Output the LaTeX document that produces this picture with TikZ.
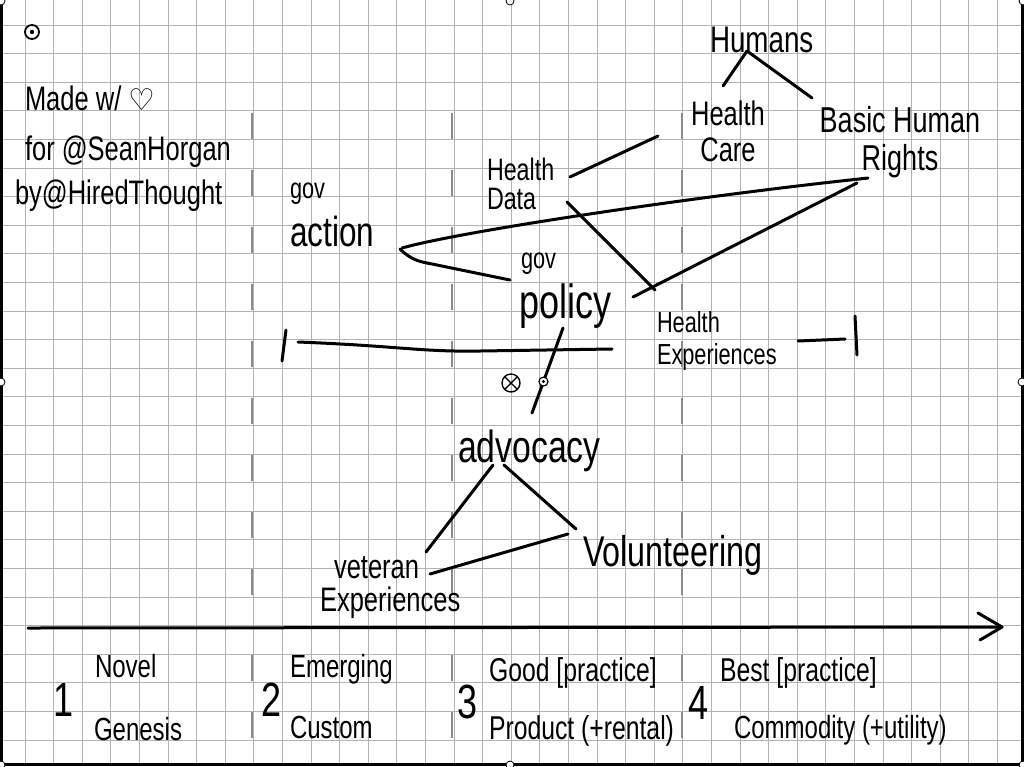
\documentclass[tikz,border=0pt]{standalone}
\usepackage{fontspec}
\setmainfont{Liberation Sans}[FakeStretch=0.75]
\newfontfamily\symfont{DejaVu Sans}
\usetikzlibrary{calc}
\begin{document}
\begin{tikzpicture}[x=1pt,y=-1pt,
  ink/.style={line width=3pt, line cap=round, line join=round, draw=black},
  gridline/.style={line width=1pt, draw=black!30},
  evo/.style={line width=2pt, draw=black!45, dash pattern=on 26pt off 31pt},
  hand/.style={inner sep=0pt, outer sep=0pt, text=black},
  fs/.style 2 args={font=\fontsize{#1}{#2}\selectfont},
  handle/.style={circle, draw=black, fill=white, line width=0.8pt, inner sep=0pt, minimum size=8pt},
  dotmark/.style={circle, draw=black, fill=white, line width=1.2pt, inner sep=0pt, minimum size=9pt}
]
\useasboundingbox (0,0) rectangle (1024,766);
\fill[white] (0,0) rectangle (1024,766);
% grid
\foreach \i in {0,...,34} \draw[gridline] ({25+28.6*\i},0) -- ({25+28.6*\i},766);
\foreach \j in {0,...,25} \draw[gridline] (0,{25+28.6*\j}) -- (1024,{25+28.6*\j});
% evolution stage separators
\foreach \x in {252,452,682} {
  \draw[evo] (\x,113) -- (\x,600);
  \draw[evo] (\x,655) -- (\x,740);
}
% frame
\draw[line width=3pt] (1.5,0) -- (1.5,764.5) -- (1022.5,764.5) -- (1022.5,0);
% handles
\foreach \p in {(510,1),(1,382),(1022,382),(510,765),(1,1),(1023,1),(1,765),(1023,765)}
  \node[handle] at \p {};
% anchor marker top-left
\draw[line width=1.8pt] (32,32) circle (7);
\fill (32,32) circle (2.2);

% header
\node[hand, fs={34}{38}, anchor=base west] (made) at (25,110) {Made w/ {\symfont\fontsize{30}{30}\selectfont ♡}};
\node[hand, fs={34}{38}, anchor=base west] (for) at (25,160) {for @SeanHorgan};
\node[hand, fs={34}{38}, anchor=base west] (by) at (15,204) {by@HiredThought};

% components
\node[hand, fs={37}{40}, anchor=base west] (humans) at (710,52) {Humans};
\node[hand, fs={34}{36}, anchor=north, align=center] (care) at (728,101) {Health\\Care};
\node[hand, fs={36}{38}, anchor=north, align=center] (rights) at (900,106) {Basic Human\\Rights};
\node[hand, fs={31}{29}, anchor=north west, align=left] (hdata) at (487,158) {Health\\Data};
\node[hand, fs={29}{30}, anchor=base west] (govA) at (290,198) {gov};
\node[hand, fs={42}{44}, anchor=base west] (action) at (290,246) {action};
\node[hand, fs={29}{30}, anchor=base west] (govP) at (521,268) {gov};
\node[hand, fs={48}{50}, anchor=base west] (policy) at (519,318) {policy};
\node[hand, fs={29}{32}, anchor=north west, align=left] (hexp) at (657,311) {Health\\Experiences};
\node[hand, fs={45}{48}, anchor=base west] (advocacy) at (458,462) {advocacy};
\node[hand, fs={43}{46}, anchor=base west] (volunteering) at (583,566) {Volunteering};
\node[hand, fs={34}{33}, anchor=north west, align=left] (veteran) at (320,557) {\hspace*{14pt}veteran\\Experiences};

% connectors
\draw[ink] ($(humans.base west)+(37,-1)$) -- ($(care.north)+(-5,-15)$);
\draw[ink] ($(humans.base west)+(37,-1)$) -- ($(rights.north)+(-88,-8)$);
\draw[ink] ($(hdata.north west)+(83,19)$) -- ($(care.north)+(-70,35)$);
\draw[ink] ($(hdata.north west)+(80,44)$) -- ($(hexp.north west)+(-2,-21)$);
\draw[ink] ($(policy.base west)+(114,-21)$) -- ($(rights.north)+(-43,77)$);
\draw[ink] ($(action.base west)+(112,2)$) .. controls (455,233) and (650,203) .. ($(rights.north)+(-77,77)$) -- ($(rights.north)+(-32,72)$);
\draw[ink] ($(action.base west)+(110,3)$) .. controls (412,261) and (422,262) .. (432,264) -- ($(policy.base west)+(-9,-38)$);
\draw[ink] ($(policy.base west)+(44,10)$) -- ($(advocacy.base west)+(74,-49)$)
  node[dotmark, pos=0.63] (inert) {};
\fill ($(inert.center)$) circle (1.6);
\draw[ink] ($(advocacy.base west)+(35,3)$) -- ($(veteran.north west)+(106,-5)$);
\draw[ink] ($(advocacy.base west)+(46,3)$) -- ($(volunteering.base west)+(-7,-37)$);
\draw[ink] ($(veteran.north west)+(110,17)$) -- ($(volunteering.base west)+(-15,-32)$);

% range marker
\draw[ink] (286,330) -- (282,361);
\draw[ink] (298,342) .. controls (400,346) and (420,352) .. (480,351) -- (612,349);
\draw[ink] (798,341) -- (845,339);
\draw[ink] (855,316) -- (857,355);

% crossed marker
\draw[line width=1.4pt] (511,383) circle (9);
\draw[line width=1.4pt] (505,377) -- (517,389) (517,377) -- (505,389);

% evolution axis
\coordinate (ax0) at (28,628);
\coordinate (ax1) at (1002,627);
\draw[ink] (ax0) -- (ax1);
\draw[ink] (978,613) -- (ax1) -- (980,640);

% stage labels
\node[hand, fs={48}{50}, anchor=base west] (s1) at (53,716) {1};
\node[hand, fs={32}{34}, anchor=base west] (novel) at (95,677) {Novel};
\node[hand, fs={32}{34}, anchor=base west] (genesis) at (94,740) {Genesis};
\node[hand, fs={48}{50}, anchor=base west] (s2) at (261,716) {2};
\node[hand, fs={32}{34}, anchor=base west] (emerging) at (290,677) {Emerging};
\node[hand, fs={32}{34}, anchor=base west] (custom) at (290,738) {Custom};
\node[hand, fs={48}{50}, anchor=base west] (s3) at (457,718) {3};
\node[hand, fs={33}{34}, anchor=base west] (good) at (489,681) {Good [practice]};
\node[hand, fs={33}{34}, anchor=base west] (product) at (489,739) {Product (+rental)};
\node[hand, fs={48}{50}, anchor=base west] (s4) at (688,719) {4};
\node[hand, fs={33}{34}, anchor=base west] (best) at (720,681) {Best [practice]};
\node[hand, fs={32}{34}, anchor=base west] (commodity) at (734,738) {Commodity (+utility)};
\end{tikzpicture}
\end{document}
